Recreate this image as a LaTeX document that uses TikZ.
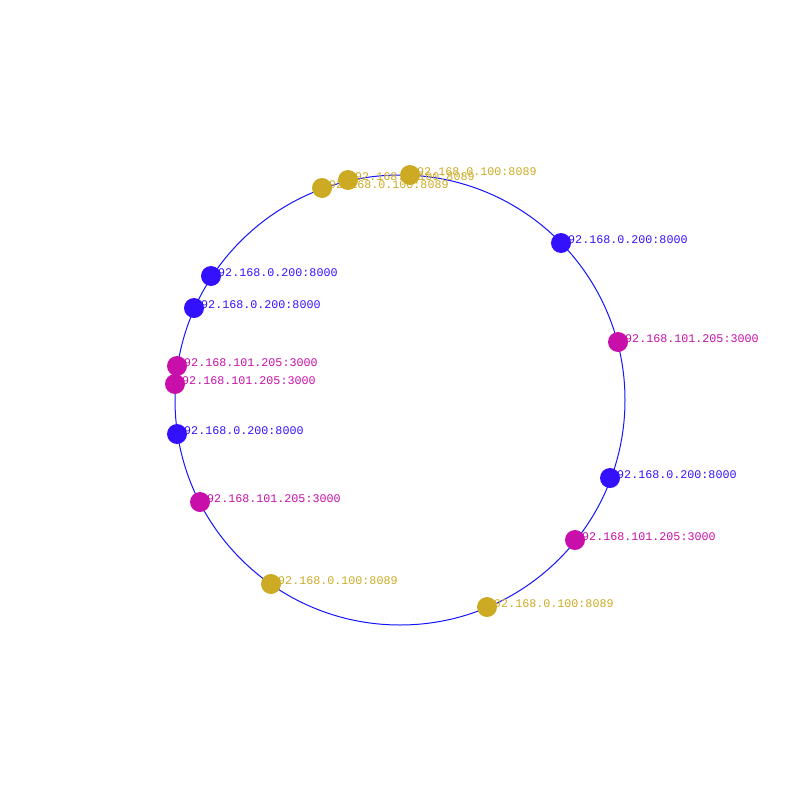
\documentclass[tikz,border=0pt]{standalone}
\usepackage{fontspec}
\setmonofont{Liberation Mono}
\definecolor{cblue}{RGB}{51,17,255}
\definecolor{cmag}{RGB}{200,15,170}
\definecolor{cgold}{RGB}{205,170,35}
\definecolor{ring}{RGB}{20,20,255}
\begin{document}
\begin{tikzpicture}[x=1pt,y=-1pt,
  dot/.style={circle,fill=#1,draw=none,minimum size=20pt,inner sep=0pt},
  lab/.style={anchor=base west,inner sep=0pt,text=#1,font=\ttfamily\fontsize{11.7}{12}\selectfont},
  ringline/.style={draw=ring,line width=1pt}]
\useasboundingbox (0,0) rectangle (800,800);
\node[circle,ringline,minimum size=450pt,inner sep=0pt] (ring) at (400,400) {};
% labels (under the dots)
\node[lab=cgold] (l1) at (410,175) {192.168.0.100:8089};
\node[lab=cgold] (l2) at (348,180) {192.168.0.100:8089};
\node[lab=cgold] (l3) at (322,188) {192.168.0.100:8089};
\node[lab=cgold] (l4) at (271,584) {192.168.0.100:8089};
\node[lab=cgold] (l5) at (487,607) {192.168.0.100:8089};
\node[lab=cblue] (l6) at (561,243) {192.168.0.200:8000};
\node[lab=cblue] (l7) at (211,276) {192.168.0.200:8000};
\node[lab=cblue] (l8) at (194,308) {192.168.0.200:8000};
\node[lab=cblue] (l9) at (177,434) {192.168.0.200:8000};
\node[lab=cblue] (l10) at (610,478) {192.168.0.200:8000};
\node[lab=cmag] (l11) at (618,342) {192.168.101.205:3000};
\node[lab=cmag] (l12) at (177,366) {192.168.101.205:3000};
\node[lab=cmag] (l13) at (175,384) {192.168.101.205:3000};
\node[lab=cmag] (l14) at (200,502) {192.168.101.205:3000};
\node[lab=cmag] (l15) at (575,540) {192.168.101.205:3000};
% dots
\node[dot=cgold] (d1) at (410,175) {};
\node[dot=cgold] (d2) at (348,180) {};
\node[dot=cgold] (d3) at (322,188) {};
\node[dot=cgold] (d4) at (271,584) {};
\node[dot=cgold] (d5) at (487,607) {};
\node[dot=cblue] (d6) at (561,243) {};
\node[dot=cblue] (d7) at (211,276) {};
\node[dot=cblue] (d8) at (194,308) {};
\node[dot=cblue] (d9) at (177,434) {};
\node[dot=cblue] (d10) at (610,478) {};
\node[dot=cmag] (d11) at (618,342) {};
\node[dot=cmag] (d12) at (177,366) {};
\node[dot=cmag] (d13) at (175,384) {};
\node[dot=cmag] (d14) at (200,502) {};
\node[dot=cmag] (d15) at (575,540) {};
\end{tikzpicture}
\end{document}
